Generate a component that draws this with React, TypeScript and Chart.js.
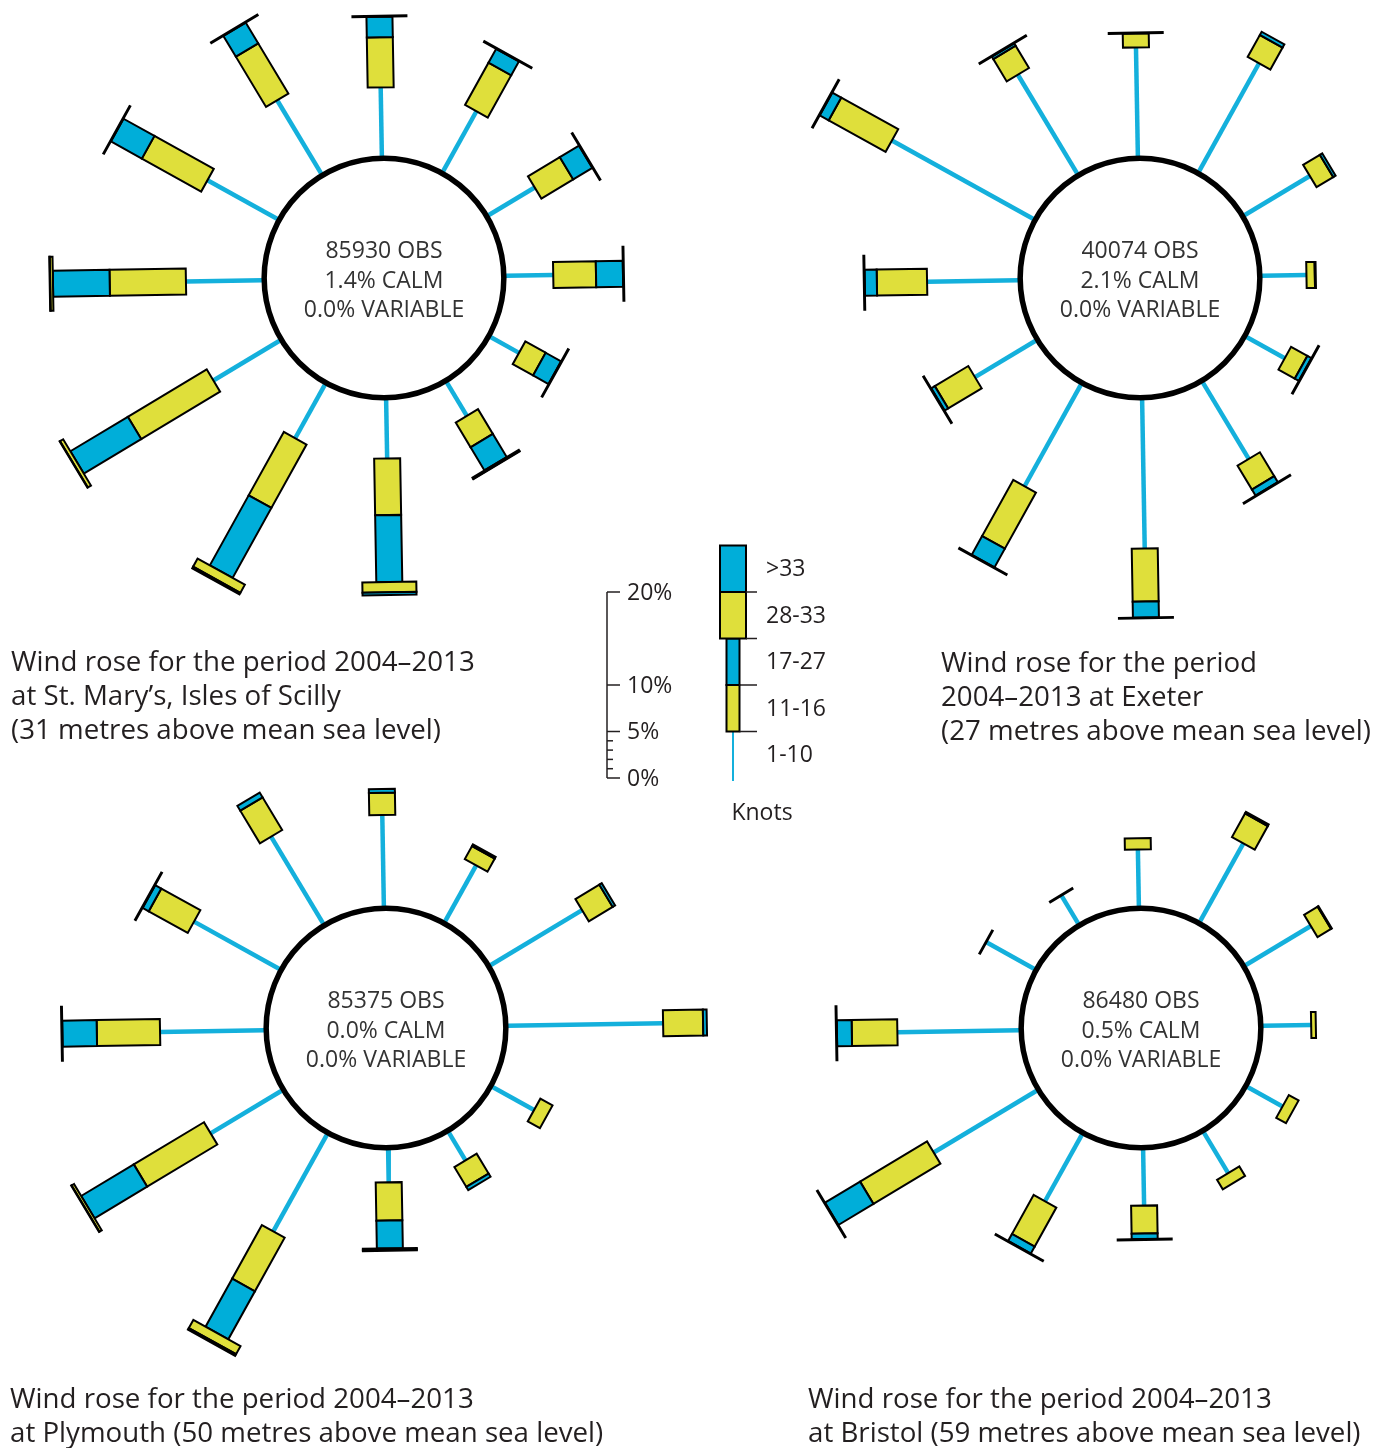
import React, { useEffect, useRef } from 'react';
import { Chart, registerables } from 'chart.js';

Chart.register(...registerables);

// ---------------- DATA ----------------
const DIRECTIONS = [0, 30, 60, 90, 120, 150, 180, 210, 240, 270, 300, 330];
const SPEED_BINS = ['1-10', '11-16', '17-27', '28-33', '>33'];
const SCALE_TICKS = [0, 1, 2, 3, 4, 5, 10, 20];
const SCALE_LABELS = [0, 5, 10, 20];
const LEGEND_BIN_SPAN = 5;

// St. Mary's, Isles of Scilly (percent of observations per direction & speed bin)
const stMarys1to10 = [7.4, 7.4, 5.8, 5.1, 3.5, 4.2, 6.3, 6.6, 8.3, 8.2, 8.6, 9.2];
const stMarys11to16 = [5.4, 5.2, 4.0, 4.6, 2.5, 3.1, 6.1, 7.8, 9.9, 8.2, 7.3, 6.3];
const stMarys17to27 = [2.2, 1.7, 2.4, 2.9, 1.9, 2.9, 7.2, 8.6, 7.2, 6.1, 3.8, 2.6];
const stMarys28to33 = [0.1, 0.1, 0.1, 0.1, 0.1, 0.15, 1.1, 1.0, 0.4, 0.3, 0.1, 0.1];
const stMarysOver33 = [0, 0, 0, 0, 0, 0.05, 0.3, 0.2, 0.05, 0.05, 0, 0];

// Exeter
const exeter1to10 = [11.7, 13.3, 8.2, 4.8, 4.7, 9.6, 16.0, 12.5, 7.6, 9.8, 17.4, 12.4];
const exeter11to16 = [1.5, 2.7, 2.1, 0.9, 2.0, 3.0, 5.7, 6.9, 4.2, 5.4, 7.0, 2.8];
const exeter17to27 = [0, 0.4, 0.3, 0.1, 0.5, 0.75, 1.7, 2.3, 0.45, 1.3, 1.1, 0.3];
const exeter28to33 = [0.1, 0, 0, 0, 0.1, 0.1, 0.1, 0.1, 0.1, 0.1, 0.1, 0.1];
const exeterOver33 = [0, 0, 0, 0, 0, 0, 0, 0, 0, 0, 0, 0];

// Plymouth
const plymouth1to10 = [9.8, 6.9, 11.5, 16.7, 5.1, 3.5, 3.5, 11.9, 8.9, 11.2, 10.5, 10.9];
const plymouth11to16 = [2.4, 1.6, 3.0, 4.3, 1.5, 2.5, 4.1, 6.6, 8.8, 6.8, 4.8, 4.1];
const plymouth17to27 = [0.4, 0.2, 0.3, 0.4, 0, 0.4, 3.0, 5.9, 6.6, 3.7, 0.75, 0.6];
const plymouth28to33 = [0, 0, 0, 0, 0, 0, 0.15, 1.0, 0.3, 0.1, 0.1, 0];
const plymouthOver33 = [0, 0, 0, 0, 0, 0, 0.1, 0.2, 0.05, 0, 0, 0];

// Bristol
const bristol1to10 = [6.1, 9.6, 8.2, 5.2, 4.3, 5.1, 6.0, 8.2, 12.9, 13.1, 5.9, 3.5];
const bristol11to16 = [1.2, 2.9, 1.7, 0.5, 1.2, 1.2, 3.0, 4.8, 8.4, 4.9, 0.1, 0.1];
const bristol17to27 = [0, 0.2, 0.1, 0, 0, 0, 0.6, 0.85, 4.4, 1.6, 0, 0];
const bristol28to33 = [0, 0, 0, 0, 0, 0, 0.1, 0.1, 0.1, 0.1, 0, 0];
const bristolOver33 = [0, 0, 0, 0, 0, 0, 0, 0, 0, 0, 0, 0];

// ---------------- STYLE ----------------
const YELLOW = '#dfdf3b';
const BLUE = '#00aed9';
const SPOKE = '#14b0dc';
const INK = '#231f20';
const FONT = '"Open Sans", "Noto Sans", sans-serif';
const PX_PER_PCT = 9.3;
const HOLE_PCT = 13.1; // radius of the calm circle, in percent units
const ROTATION = -1.0;
const CANVAS = 760;
const NARROW = 26;
const WIDE = 54;

type Rose = {
  cx: number; cy: number;
  bins: number[][];
  obs: string; calm: string; variable: string;
  caption: string[]; capX: number; capY: number;
};

const ROSES: Rose[] = [
  { cx: 384, cy: 278, bins: [stMarys1to10, stMarys11to16, stMarys17to27, stMarys28to33, stMarysOver33],
    obs: '85930 OBS', calm: '1.4% CALM', variable: '0.0% VARIABLE',
    caption: ['Wind rose for the period 2004\u20132013', 'at St. Mary\u2019s, Isles of Scilly', '(31 metres above mean sea level)'], capX: 11, capY: 660 },
  { cx: 1140, cy: 278, bins: [exeter1to10, exeter11to16, exeter17to27, exeter28to33, exeterOver33],
    obs: '40074 OBS', calm: '2.1% CALM', variable: '0.0% VARIABLE',
    caption: ['Wind rose for the period', '2004\u20132013 at Exeter', '(27 metres above mean sea level)'], capX: 941, capY: 661 },
  { cx: 386, cy: 1028, bins: [plymouth1to10, plymouth11to16, plymouth17to27, plymouth28to33, plymouthOver33],
    obs: '85375 OBS', calm: '0.0% CALM', variable: '0.0% VARIABLE',
    caption: ['Wind rose for the period 2004\u20132013', 'at Plymouth (50 metres above mean sea level)'], capX: 10, capY: 1397 },
  { cx: 1141, cy: 1028, bins: [bristol1to10, bristol11to16, bristol17to27, bristol28to33, bristolOver33],
    obs: '86480 OBS', calm: '0.5% CALM', variable: '0.0% VARIABLE',
    caption: ['Wind rose for the period 2004\u20132013', 'at Bristol (59 metres above mean sea level)'], capX: 808, capY: 1397 },
];

const BIN_FILL = [SPOKE, YELLOW, BLUE, YELLOW, BLUE];
const BIN_WIDTH = [0, NARROW, NARROW, WIDE, WIDE];

const rad = (deg: number) => ((deg + ROTATION) * Math.PI) / 180;

function RoseChart({ rose }: { rose: Rose }) {
  const ref = useRef<HTMLCanvasElement>(null);
  useEffect(() => {
    const half = CANVAS / 2 / PX_PER_PCT;
    const spokes = DIRECTIONS.map((d, i) => {
      const t = rad(d);
      const r1 = HOLE_PCT;
      const r2 = HOLE_PCT + rose.bins[0][i];
      return {
        data: [
          { x: r1 * Math.sin(t), y: r1 * Math.cos(t) },
          { x: r2 * Math.sin(t), y: r2 * Math.cos(t) },
        ],
        showLine: true,
        borderColor: SPOKE,
        borderWidth: 4.5,
        borderCapStyle: 'butt' as const,
        pointRadius: 0,
      };
    });
    const boxes = {
      id: 'roseBoxes',
      afterDatasetsDraw(chart: any) {
        const { ctx } = chart;
        const xs = chart.scales.x;
        const ys = chart.scales.y;
        const map = (r: number, t: number) => [xs.getPixelForValue(r * Math.sin(t)), ys.getPixelForValue(r * Math.cos(t))];
        ctx.save();
        DIRECTIONS.forEach((d, i) => {
          const t = rad(d);
          const nx = Math.cos(t);
          const ny = Math.sin(t);
          let r = HOLE_PCT + rose.bins[0][i];
          for (let b = 1; b < SPEED_BINS.length; b++) {
            const v = rose.bins[b][i];
            if (!v) continue;
            const [sx, sy] = map(r, t);
            const [ex, ey] = map(r + v, t);
            const w = BIN_WIDTH[b] / 2;
            ctx.beginPath();
            ctx.moveTo(sx + nx * w, sy + ny * w);
            ctx.lineTo(ex + nx * w, ey + ny * w);
            ctx.lineTo(ex - nx * w, ey - ny * w);
            ctx.lineTo(sx - nx * w, sy - ny * w);
            ctx.closePath();
            ctx.fillStyle = BIN_FILL[b];
            ctx.fill();
            ctx.lineWidth = 2;
            ctx.lineJoin = 'miter';
            ctx.strokeStyle = '#000';
            ctx.stroke();
            r += v;
          }
        });
        const cx = xs.getPixelForValue(0);
        const cy = ys.getPixelForValue(0);
        const rr = xs.getPixelForValue(HOLE_PCT) - cx - 2;
        ctx.beginPath();
        ctx.arc(cx, cy, rr, 0, Math.PI * 2);
        ctx.fillStyle = '#fff';
        ctx.fill();
        ctx.lineWidth = 5.5;
        ctx.strokeStyle = '#000';
        ctx.stroke();
        ctx.restore();
      },
    };
    const chart = new Chart(ref.current!, {
      type: 'scatter',
      data: { datasets: spokes as any },
      options: {
        responsive: false,
        maintainAspectRatio: false,
        animation: false,
        devicePixelRatio: 1,
        layout: { padding: 0 },
        scales: {
          x: { type: 'linear', min: -half, max: half, display: false },
          y: { type: 'linear', min: -half, max: half, display: false },
        },
        plugins: { legend: { display: false }, tooltip: { enabled: false } },
      },
      plugins: [boxes],
    });
    return () => chart.destroy();
  }, [rose]);
  return (
    <>
      <canvas ref={ref} width={CANVAS} height={CANVAS}
        style={{ position: 'absolute', left: rose.cx - CANVAS / 2, top: rose.cy - CANVAS / 2, width: CANVAS, height: CANVAS }} />
      <div style={{ position: 'absolute', left: rose.cx - 110, top: rose.cy - 43, width: 220, textAlign: 'center',
        font: `23px ${FONT}`, lineHeight: '29.5px', color: '#333' }}>
        <div>{rose.obs}</div><div>{rose.calm}</div><div>{rose.variable}</div>
      </div>
      <div style={{ position: 'absolute', left: rose.capX, top: rose.capY - 17, whiteSpace: 'nowrap',
        font: `27.7px ${FONT}`, lineHeight: '34px', color: INK }}>
        {rose.caption.map((c, k) => <div key={k}>{c}</div>)}
      </div>
    </>
  );
}

const LEG_LEFT = 590;
const LEG_TOP = 530;
const LEG_W = 250;
const LEG_H = 300;
const LEG_ZERO_Y = 248; // pixel row of 0 % inside the legend canvas

function LegendChart() {
  const ref = useRef<HTMLCanvasElement>(null);
  useEffect(() => {
    const yMax = LEG_ZERO_Y / PX_PER_PCT;
    const yMin = -(LEG_H - LEG_ZERO_Y) / PX_PER_PCT;
    const draw = {
      id: 'legendDraw',
      afterDatasetsDraw(chart: any) {
        const { ctx } = chart;
        const ys = chart.scales.y;
        const xs = chart.scales.x;
        const X = (v: number) => xs.getPixelForValue(v);
        const Y = (v: number) => ys.getPixelForValue(v);
        ctx.save();
        ctx.strokeStyle = INK;
        ctx.fillStyle = INK;
        ctx.lineWidth = 1.5;
        // scale bar
        const barX = X(17);
        ctx.beginPath();
        ctx.moveTo(barX, Y(0));
        ctx.lineTo(barX, Y(SCALE_TICKS[SCALE_TICKS.length - 1]));
        ctx.stroke();
        SCALE_TICKS.forEach((t) => {
          const major = SCALE_LABELS.includes(t);
          ctx.beginPath();
          ctx.moveTo(barX, Y(t));
          ctx.lineTo(barX + (major ? 13 : 6), Y(t));
          ctx.stroke();
        });
        ctx.font = `23px ${FONT}`;
        ctx.textBaseline = 'middle';
        ctx.textAlign = 'left';
        SCALE_LABELS.forEach((t) => ctx.fillText(`${t}%`, X(37), Y(t) + 1));
        // speed legend column
        const colX = X(143);
        SPEED_BINS.forEach((label, b) => {
          const lo = b * LEGEND_BIN_SPAN;
          const hi = lo + LEGEND_BIN_SPAN;
          if (b === 0) {
            ctx.beginPath();
            ctx.strokeStyle = SPOKE;
            ctx.lineWidth = 2;
            ctx.moveTo(colX, Y(lo) + 3);
            ctx.lineTo(colX, Y(hi));
            ctx.stroke();
          } else {
            const w = b < 3 ? 13 : 26;
            ctx.fillStyle = BIN_FILL[b];
            ctx.fillRect(colX - w / 2, Y(hi), w, Y(lo) - Y(hi));
            ctx.strokeStyle = '#000';
            ctx.lineWidth = 2;
            ctx.strokeRect(colX - w / 2, Y(hi), w, Y(lo) - Y(hi));
          }
          if (b > 0) {
            const w = b < 3 ? 13 : 26;
            ctx.beginPath();
            ctx.strokeStyle = INK;
            ctx.lineWidth = 1.5;
            ctx.moveTo(colX + w / 2, Y(lo));
            ctx.lineTo(X(167), Y(lo));
            ctx.stroke();
          }
          ctx.fillStyle = INK;
          ctx.fillText(label, X(176), Y((lo + hi) / 2) + 1);
        });
        ctx.textAlign = 'center';
        ctx.fillText('Knots', X(172), Y(0) + 35);
        ctx.restore();
      },
    };
    const chart = new Chart(ref.current!, {
      type: 'scatter',
      data: { datasets: [] },
      options: {
        responsive: false,
        maintainAspectRatio: false,
        animation: false,
        devicePixelRatio: 1,
        layout: { padding: 0 },
        scales: {
          x: { type: 'linear', min: 0, max: LEG_W, display: false },
          y: { type: 'linear', min: yMin, max: yMax, display: false },
        },
        plugins: { legend: { display: false }, tooltip: { enabled: false } },
      },
      plugins: [draw],
    });
    return () => chart.destroy();
  }, []);
  return (
    <canvas ref={ref} width={LEG_W} height={LEG_H}
      style={{ position: 'absolute', left: LEG_LEFT, top: LEG_TOP, width: LEG_W, height: LEG_H }} />
  );
}

export default function App() {
  return (
    <div style={{ position: 'absolute', left: 0, top: 0, width: 1386, height: 1448, overflow: 'hidden', background: '#fff' }}>
      {ROSES.map((r, i) => <RoseChart key={i} rose={r} />)}
      <LegendChart />
    </div>
  );
}
